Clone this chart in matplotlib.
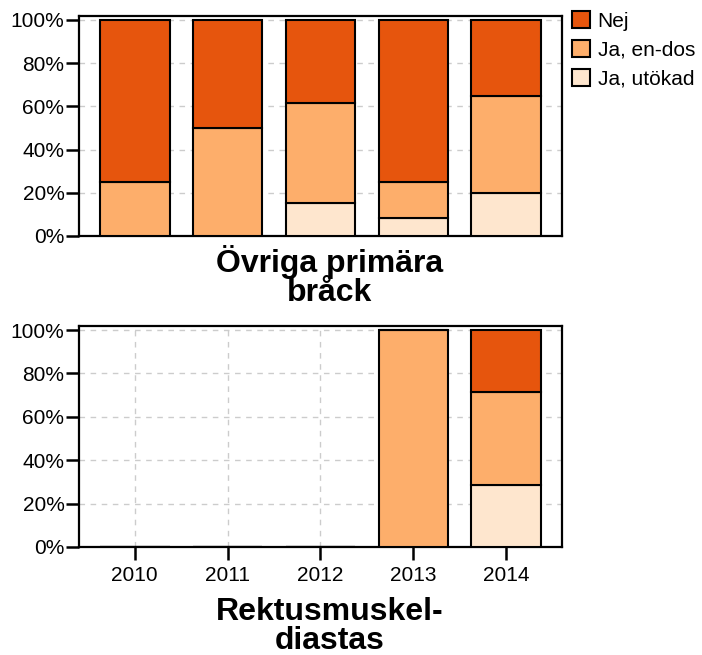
import numpy as np
import matplotlib.pyplot as plt

plt.rcParams['font.family'] = ['Liberation Sans', 'DejaVu Sans']

years = ["2010", "2011", "2012", "2013", "2014"]
labels = ["Nej", "Ja, en-dos", "Ja, utökad"]
colors = ["#e6550d", "#fdae6b", "#fee6ce"]

# procent per år, ordning: utökad, en-dos, nej
ovriga_utokad = [0, 0, 15.4, 8.3, 20]
ovriga_endos = [25, 50, 46.2, 16.7, 45]
ovriga_nej = [75, 50, 38.5, 75, 35]

rektus_utokad = [0, 0, 0, 0, 28.6]
rektus_endos = [0, 0, 0, 100, 42.8]
rektus_nej = [0, 0, 0, 0, 28.6]

panels = [
    ("Övriga primära\nbråck", ovriga_utokad, ovriga_endos, ovriga_nej),
    ("Rektusmuskel-\ndiastas", rektus_utokad, rektus_endos, rektus_nej),
]

fig = plt.figure(figsize=(7.02, 6.55), dpi=100)
ax_pos = [[0.1125, 0.6397, 0.688, 0.336], [0.1125, 0.1649, 0.688, 0.3374]]
title_y = [0.578, 0.043]

x = np.arange(len(years))
for i, (title, utokad, endos, nej) in enumerate(panels):
    ax = fig.add_axes(ax_pos[i])
    utokad = np.array(utokad)
    endos = np.array(endos)
    nej = np.array(nej)
    kw = dict(width=0.75, edgecolor="black", linewidth=1.5, zorder=3)
    ax.bar(x, utokad, color=colors[2], label=labels[2], **kw)
    ax.bar(x, endos, bottom=utokad, color=colors[1], label=labels[1], **kw)
    ax.bar(x, nej, bottom=utokad + endos, color=colors[0], label=labels[0], **kw)

    ax.set_xlim(-0.6, 4.6)
    ax.set_ylim(0, 101.85)
    ax.set_yticks([0, 20, 40, 60, 80, 100])
    ax.set_yticklabels([f"{v}%" for v in [0, 20, 40, 60, 80, 100]])
    ax.set_xticks(x)
    ax.grid(True, linestyle=(0, (4, 4)), color="#cccccc", linewidth=1, zorder=0)
    ax.set_axisbelow(True)
    for s in ax.spines.values():
        s.set_linewidth(1.6)
    ax.tick_params(axis="y", length=9.5, width=1.8, labelsize=15, pad=1)
    if i == 0:
        ax.tick_params(axis="x", length=0, labelbottom=False)
        handles, lbls = ax.get_legend_handles_labels()
        fig.legend(handles[::-1], lbls[::-1], loc="upper left",
                   bbox_to_anchor=(0.815, 0.983), frameon=False, fontsize=15,
                   handlelength=0.87, handleheight=0.87, handletextpad=0.35,
                   labelspacing=0.45, borderaxespad=0, borderpad=0)
    else:
        ax.set_xticklabels(years)
        ax.tick_params(axis="x", length=9.5, width=1.8, labelsize=15, pad=4)
    fig.text(0.47, title_y[i], title, ha="center", va="center",
             fontsize=23, fontweight="bold", linespacing=0.95)

fig.savefig("out.png", dpi=100)
